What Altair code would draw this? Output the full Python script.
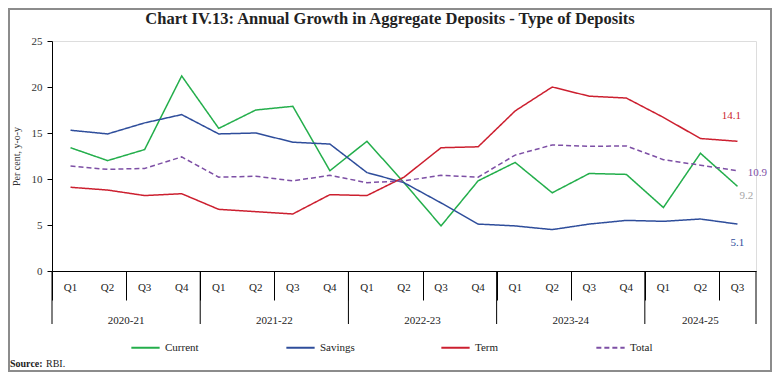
import altair as alt
import pandas as pd

quarters = ["Q1", "Q2", "Q3", "Q4"] * 4 + ["Q1", "Q2", "Q3"]
years = (["2020-21"] * 4 + ["2021-22"] * 4 + ["2022-23"] * 4 +
         ["2023-24"] * 4 + ["2024-25"] * 3)

current = [13.4, 12.0, 13.2, 21.2, 15.5, 17.5, 17.9, 10.9, 14.1, 9.6,
           4.9, 9.8, 11.8, 8.5, 10.6, 10.5, 6.9, 12.8, 9.2]
savings = [15.3, 14.9, 16.1, 17.0, 14.9, 15.0, 14.0, 13.8, 10.7, 9.6,
           7.4, 5.1, 4.9, 4.5, 5.1, 5.5, 5.4, 5.65, 5.1]
term = [9.1, 8.8, 8.2, 8.4, 6.7, 6.45, 6.2, 8.3, 8.2, 10.2,
        13.4, 13.5, 17.4, 20.0, 19.0, 18.8, 16.7, 14.4, 14.1]
total = [11.4, 11.05, 11.15, 12.4, 10.2, 10.3, 9.8, 10.4, 9.6, 9.8,
         10.4, 10.2, 12.6, 13.7, 13.55, 13.6, 12.1, 11.5, 10.9]

series_names = ["Current", "Savings", "Term", "Total"]
series_colors = ["#23AE4B", "#2E4D9B", "#CC1F2F", "#7D4FA5"]

title_text = "Chart IV.13: Annual Growth in Aggregate Deposits - Type of Deposits"

FONT = "Liberation Serif"
W, H = 704, 230

idx = list(range(len(quarters)))
rows = []
for name, vals in zip(series_names, [current, savings, term, total]):
    for i, q, y, v in zip(idx, quarters, years, vals):
        rows.append({"idx": i, "quarter": q, "year": y, "series": name, "value": v})
df = pd.DataFrame(rows)

qdf = pd.DataFrame({"idx": idx, "quarter": quarters, "year": years})
grp = qdf.groupby("year", sort=False)["idx"]
ydf = pd.DataFrame({"year": grp.min().index,
                    "mid": ((grp.min() + grp.max()) / 2).values})
bounds = sorted(set((grp.min() - 0.5).tolist() + (grp.max() + 0.5).tolist()))
bdf = pd.DataFrame({"b": bounds})

xscale = alt.Scale(domain=[-0.5, len(idx) - 0.5], nice=False, zero=False)
yscale = alt.Scale(domain=[0, 25], nice=False)

tick_vals = [i - 0.5 for i in idx] + [len(idx) - 0.5]

x_axis = alt.Axis(values=tick_vals, labels=False, tickSize=29, domainColor="#000",
                  tickColor="#000", title=None, grid=False)
y_axis = alt.Axis(values=[0, 5, 10, 15, 20, 25], tickSize=5, domainColor="#000",
                  tickColor="#000", labelFont=FONT, labelFontSize=11, labelColor="#333",
                  labelPadding=5, title="Per cent, y-o-y", titleFont=FONT,
                  titleFontSize=10, titleFontWeight="normal", titleColor="#333",
                  titlePadding=10, grid=False)

lines = alt.Chart(df).mark_line(strokeWidth=1.5).encode(
    x=alt.X("idx:Q", scale=xscale, axis=x_axis),
    y=alt.Y("value:Q", scale=yscale, axis=y_axis),
    color=alt.Color("series:N", scale=alt.Scale(domain=series_names, range=series_colors),
                    legend=alt.Legend(title=None, orient="none", legendX=78, legendY=291,
                                      direction="horizontal", columns=4,
                                      symbolType="stroke", symbolSize=800,
                                      symbolStrokeWidth=2, labelFont=FONT,
                                      labelFontSize=11, labelColor="#222",
                                      columnPadding=82, gridAlign="all")),
    strokeDash=alt.StrokeDash("series:N",
                              scale=alt.Scale(domain=series_names,
                                              range=[[1, 0], [1, 0], [1, 0], [5, 3]]),
                              legend=alt.Legend(title=None)),
    detail="series:N",
)

last = df[df["idx"] == idx[-1]]


def end_label(name, color, dx, dy):
    return alt.Chart(last).transform_filter(alt.datum.series == name).mark_text(
        font=FONT, fontSize=11, color=color, dx=dx, dy=dy, align="center"
    ).encode(
        x=alt.X("idx:Q", scale=xscale),
        y=alt.Y("value:Q", scale=yscale),
        text=alt.Text("value:Q", format=".1f"),
    )


lab_term = end_label("Term", "#CC1F2F", -6, -25)
lab_total = end_label("Total", "#7D4FA5", 20, 2)
lab_cur = end_label("Current", "#A6A6A6", 9, 10)
lab_sav = end_label("Savings", "#2E4D9B", 0, 19)

qlabels = alt.Chart(qdf).mark_text(font=FONT, fontSize=11, color="#222").encode(
    x=alt.X("idx:Q", scale=xscale),
    y=alt.value(H + 17),
    text="quarter:N",
)

ylabels = alt.Chart(ydf).mark_text(font=FONT, fontSize=11, color="#222").encode(
    x=alt.X("mid:Q", scale=xscale),
    y=alt.value(H + 50),
    text="year:N",
)

seps = alt.Chart(bdf).mark_rule(color="#000", strokeWidth=1).encode(
    x=alt.X("b:Q", scale=xscale),
    y=alt.value(H),
    y2=alt.value(H + 53),
)

title = alt.Chart(alt.Data(values=[{"t": title_text}])).mark_text(
    font=FONT, fontSize=16.5, fontWeight="bold", color="#222",
    align="center", baseline="middle"
).encode(x=alt.value(338), y=alt.value(-22), text="t:N")

source = alt.Chart(alt.Data(values=[{"a": "Source:"}])).mark_text(
    font=FONT, fontSize=10, fontWeight="bold", align="left", color="#222"
).encode(x=alt.value(-44 + 2), y=alt.value(H + 93), text="a:N")
source2 = alt.Chart(alt.Data(values=[{"b": "RBI."}])).mark_text(
    font=FONT, fontSize=10, align="left", color="#222"
).encode(x=alt.value(-44 + 38), y=alt.value(H + 93), text="b:N")

frame = alt.Chart(alt.Data(values=[{}])).mark_rect(
    fillOpacity=0, stroke="#8c8c8c", strokeWidth=2
).encode(
    x=alt.value(-44 + 1), x2=alt.value(W + 16 - 1),
    y=alt.value(-33 + 1), y2=alt.value(H + 101 - 1),
)

chart = alt.layer(
    frame, seps, lines, qlabels, ylabels, lab_term, lab_total, lab_cur, lab_sav,
    title, source, source2,
).properties(
    width=W, height=H,
    autosize=alt.AutoSizeParams(type="none"),
    padding={"left": 44, "top": 33, "right": 16, "bottom": 101},
).configure_view(strokeWidth=0).configure(background="white")

chart.save("out.html", embed_options={"renderer": "svg", "actions": False})
